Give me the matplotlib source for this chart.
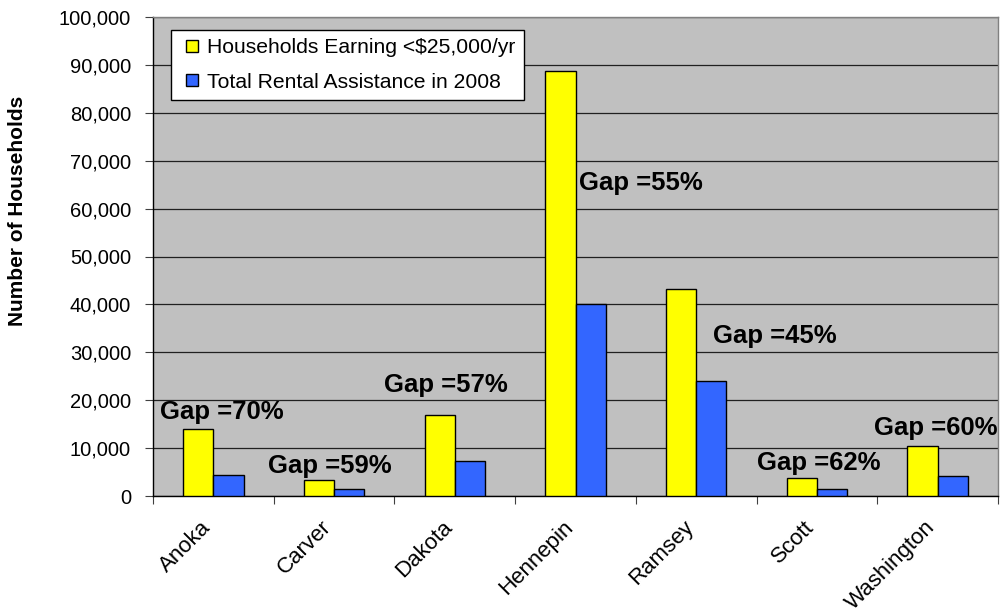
import matplotlib
matplotlib.use("Agg")
import matplotlib.pyplot as plt
from matplotlib.lines import Line2D
from matplotlib.ticker import FuncFormatter, FixedLocator, NullFormatter
from matplotlib.transforms import ScaledTranslation

plt.rcParams['font.family'] = ['Liberation Sans', 'DejaVu Sans']

counties = ["Anoka", "Carver", "Dakota", "Hennepin", "Ramsey", "Scott", "Washington"]
earning_lt25k = [14000, 3400, 17000, 88800, 43300, 3700, 10500]
rental_assist = [4300, 1500, 7300, 40000, 24000, 1500, 4100]
gap_labels = ["Gap =70%", "Gap =59%", "Gap =57%", "Gap =55%", "Gap =45%", "Gap =62%", "Gap =60%"]
# label anchor (left edge in category units, vertical centre in data units)
gap_label_x = [-0.44, 0.45, 1.41, 3.03, 4.14, 4.50, 5.47]
gap_label_y = [17500, 6300, 23200, 65300, 33400, 6900, 14200]

series_names = ["Households Earning <$25,000/yr", "Total Rental Assistance in 2008"]
yellow = "#FFFF00"
blue = "#3366FF"

fig = plt.figure(figsize=(10.02, 6.14), dpi=100)
ax = fig.add_axes([153/1002, (614-496)/614, (998-153)/1002, (496-17)/614])
ax.set_facecolor("#C0C0C0")

x = list(range(len(counties)))
w = 0.25
ax.bar([i - w/2 for i in x], earning_lt25k, width=w, color=yellow, edgecolor="black", linewidth=1.0, zorder=3)
ax.bar([i + w/2 for i in x], rental_assist, width=w, color=blue, edgecolor="black", linewidth=1.0, zorder=3)

for lx, ly, t in zip(gap_label_x, gap_label_y, gap_labels):
    ax.text(lx, ly, t, ha="left", va="center", fontsize=18.5, fontweight="bold", zorder=5, clip_on=False)

ax.set_xlim(-0.5, len(counties) - 0.5)
ax.set_ylim(0, 100000)
ax.yaxis.set_major_locator(FixedLocator(list(range(0, 100001, 10000))))
ax.yaxis.set_major_formatter(FuncFormatter(lambda v, p: f"{int(v):,}"))
ax.yaxis.grid(True, color="#202020", linewidth=0.9, zorder=1)
ax.set_axisbelow(True)

ax.xaxis.set_major_locator(FixedLocator([i - 0.5 for i in range(len(counties) + 1)]))
ax.xaxis.set_major_formatter(NullFormatter())
ax.xaxis.set_minor_locator(FixedLocator(x))
ax.set_xticklabels(counties, minor=True, rotation=45, ha="right", rotation_mode="anchor", fontsize=16)
ax.tick_params(axis="x", which="minor", length=0, pad=15)
ax.tick_params(axis="x", which="major", length=5.5, direction="out", color="#404040")
ax.tick_params(axis="y", length=5.8, direction="out", labelsize=14.5, pad=10, color="#404040")
off = ScaledTranslation(-13/100, 0, fig.dpi_scale_trans)
for lbl in ax.get_xticklabels(minor=True):
    lbl.set_transform(lbl.get_transform() + off)

for s in ["top", "right"]:
    ax.spines[s].set_color("#808080")
    ax.spines[s].set_linewidth(1.0)
for s in ["left", "bottom"]:
    ax.spines[s].set_color("black")
    ax.spines[s].set_linewidth(1.0)

ax.set_ylabel("Number of Households", fontsize=15, fontweight="bold")
ax.yaxis.set_label_coords((27-153)/845, (496-211)/479)

handles = [Line2D([], [], linestyle="none", marker="s", markersize=8.6, markerfacecolor=yellow,
                  markeredgecolor="black", markeredgewidth=1.0),
           Line2D([], [], linestyle="none", marker="s", markersize=8.6, markerfacecolor=blue,
                  markeredgecolor="black", markeredgewidth=1.0)]
leg = ax.legend(handles, series_names, loc="upper left", bbox_to_anchor=((171-153)/845, (496-30)/479),
                fontsize=15.2, frameon=True, fancybox=False, shadow=False, framealpha=1,
                edgecolor="black", handlelength=1.2, handletextpad=0.1,
                borderpad=0.4, labelspacing=0.72, borderaxespad=0)
leg.get_frame().set_linewidth(1.0)
leg.set_zorder(6)

fig.savefig("out.png", dpi=100, facecolor="white")
